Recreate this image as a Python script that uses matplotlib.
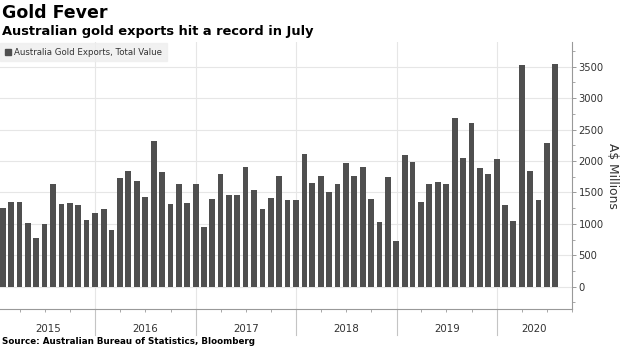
import pandas as pd
import matplotlib
matplotlib.use("Agg")
from matplotlib import pyplot as plt
import matplotlib.dates as mdates
from matplotlib.patches import Patch
from matplotlib.ticker import MultipleLocator

# monthly gold exports, A$ millions, Jan 2015 - Jul 2020 (month-end)
exports_2015 = [1246, 1342, 1342, 1018, 780, 992, 1628, 1315, 1331, 1299, 1055, 1167]
exports_2016 = [1230, 896, 1723, 1845, 1686, 1421, 2323, 1819, 1315, 1628, 1331, 1628]
exports_2017 = [955, 1389, 1792, 1453, 1464, 1898, 1543, 1241, 1411, 1761, 1379, 1373]
exports_2018 = [2111, 1649, 1761, 1501, 1633, 1962, 1761, 1898, 1389, 1029, 1750, 727]
exports_2019 = [2089, 1978, 1352, 1628, 1660, 1633, 2678, 2042, 2609, 1893, 1787, 2026]
exports_2020 = [1299, 1045, 3521, 1840, 1373, 2280, 3542]
years = [2015, 2016, 2017, 2018, 2019, 2020]

values = exports_2015 + exports_2016 + exports_2017 + exports_2018 + exports_2019 + exports_2020
months = pd.date_range("2015-01-31", periods=len(values), freq="ME")

bar_color = "#4f4f4f"
grid_color = "#e6e6e6"
spine_color = "#999999"
text_color = "#333333"

fig = plt.figure(figsize=(6.2, 3.48), dpi=100)
ax = fig.add_axes([0.0, 1 - 309 / 348, 572.3 / 620, (309 - 42) / 348])

ax.bar(mdates.date2num(months), values, width=21, color=bar_color, zorder=3)

x0 = mdates.date2num(pd.Timestamp("2015-01-19"))
x1 = mdates.date2num(pd.Timestamp("2020-09-24"))
ax.set_xlim(x0, x1)
ax.set_ylim(-355, 3893)

# y axis on the right
ax.yaxis.tick_right()
ax.yaxis.set_label_position("right")
ax.yaxis.set_major_locator(MultipleLocator(500))
ax.yaxis.set_minor_locator(MultipleLocator(250))
ax.tick_params(axis="y", which="major", length=3, width=0.7, color=spine_color,
               labelsize=7.2, labelcolor=text_color, pad=1.5)
ax.tick_params(axis="y", which="minor", length=2, width=0.6, color=spine_color)
ax.set_ylabel("A$ Millions", rotation=270, fontsize=8.8, color=text_color, labelpad=11)

for side in ["top", "left"]:
    ax.spines[side].set_visible(False)
for side in ["right", "bottom"]:
    ax.spines[side].set_color(spine_color)
    ax.spines[side].set_linewidth(0.8)

ax.grid(axis="y", color=grid_color, linewidth=0.8, zorder=0)

# x axis: quarterly minor ticks, year separators, centred year labels
quarters = [pd.Timestamp(f"{y}-{m:02d}-01") for y in years for m in (4, 7, 10)]
ax.set_xticks(mdates.date2num(quarters), minor=True)
ax.set_xticks([])
ax.tick_params(axis="x", which="minor", length=2, width=0.6, color=spine_color)

trans = ax.get_xaxis_transform()
for y in years:
    start = mdates.date2num(pd.Timestamp(f"{y}-01-01"))
    end = mdates.date2num(pd.Timestamp(f"{y + 1}-01-01"))
    if start > x0:
        ax.axvline(start, color=grid_color, linewidth=0.8, zorder=0)
        ax.plot([start, start], [0, -0.097], transform=trans, color="#c4c4c4",
                linewidth=0.8, clip_on=False)
    mid = (max(start, x0) + min(end, x1)) / 2
    ax.text(mid, -0.075, str(y), transform=trans, ha="center", va="center",
            fontsize=7.4, color=text_color)

# titles, legend, source
fig.text(0.003, 1 - 13 / 348, "Gold Fever", fontsize=12.5, fontweight="bold",
         va="center", ha="left", color="black")
fig.text(0.003, 1 - 31.5 / 348, "Australian gold exports hit a record in July",
         fontsize=9.4, fontweight="bold", va="center", ha="left", color="black")
fig.text(0.004, 1 - 342 / 348, "Source: Australian Bureau of Statistics, Bloomberg",
         fontsize=6.3, fontweight="bold", va="center", ha="left", color="black")

leg = fig.legend(handles=[Patch(color=bar_color, label="Australia Gold Exports, Total Value")],
                 loc="upper left", bbox_to_anchor=(0.0, 1 - 43 / 348), frameon=True,
                 fontsize=6.2, handlelength=0.7, handleheight=0.7, handletextpad=0.35,
                 borderpad=0.55, borderaxespad=0, fancybox=False)
leg.get_frame().set_facecolor("#eeeeee")
leg.get_frame().set_edgecolor("#eeeeee")
for t in leg.get_texts():
    t.set_color(text_color)

fig.savefig("out.png", dpi=100)
